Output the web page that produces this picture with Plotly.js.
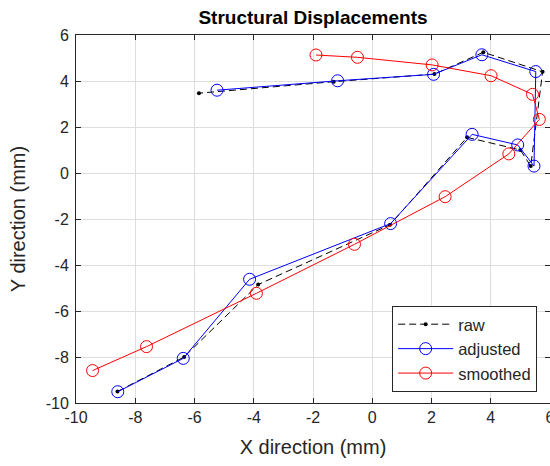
<!DOCTYPE html>
<html>
<head>
<meta charset="utf-8">
<script src="https://cdn.plot.ly/plotly-3.0.1.min.js"></script>
<style>html,body{margin:0;padding:0;background:#fff;}#chart{width:550px;height:466px;}</style>
</head>
<body>
<div id="chart"></div>
<script>
// Data (mm)
const rawX      = [-8.6, -6.35, -3.85, 0.6, 3.2, 5.0, 5.35, 5.75, 3.75, 2.1, -1.3, -5.85];
const rawY      = [-9.5, -8.0, -4.85, -2.25, 1.55, 1.0, 0.3, 4.4, 5.25, 4.3, 3.97, 3.47];
const adjX      = [-8.59, -6.38, -4.14, 0.62, 3.37, 4.91, 5.46, 5.52, 3.70, 2.07, -1.17, -5.24];
const adjY      = [-9.51, -8.06, -4.62, -2.2, 1.68, 1.22, 0.30, 4.41, 5.14, 4.29, 4.01, 3.60];
const smoothX   = [-9.44, -7.62, -3.91, -0.6, 2.46, 4.61, 5.64, 5.41, 4.01, 2.02, -0.5, -1.9];
const smoothY   = [-8.59, -7.55, -5.23, -3.1, -1.03, 0.83, 2.33, 3.42, 4.23, 4.70, 5.03, 5.13];
const seriesNames = ['raw', 'adjusted', 'smoothed'];
const xTicks = [-10, -8, -6, -4, -2, 0, 2, 4, 6];
const yTicks = [-10, -8, -6, -4, -2, 0, 2, 4, 6];

const FONT = 'Liberation Sans, Arial, Helvetica, sans-serif';
const AX = '#262626';

const traces = [
  {x: rawX, y: rawY, name: seriesNames[0], type: 'scatter', mode: 'lines+markers',
   line: {color: '#000000', width: 1, dash: '7px,4px'},
   marker: {symbol: 'circle', size: 4, color: '#000000'}},
  {x: adjX, y: adjY, name: seriesNames[1], type: 'scatter', mode: 'lines+markers',
   line: {color: '#0000ff', width: 1},
   marker: {symbol: 'circle-open', size: 12, color: '#0000ff', line: {width: 1, color: '#0000ff'}}},
  {x: smoothX, y: smoothY, name: seriesNames[2], type: 'scatter', mode: 'lines+markers',
   line: {color: '#ff0000', width: 1},
   marker: {symbol: 'circle-open', size: 12, color: '#ff0000', line: {width: 1, color: '#ff0000'}}}
];

const axisCommon = {
  showline: true, linecolor: AX, linewidth: 1, mirror: 'ticks',
  ticks: 'inside', ticklen: 5, tickcolor: AX, tickwidth: 1,
  showgrid: true, gridcolor: '#dedede', gridwidth: 1,
  zeroline: false, tickfont: {family: FONT, size: 16, color: AX},
  ticklabeloverflow: 'allow',
  fixedrange: true
};

const layout = {
  width: 550, height: 466,
  margin: {l: 76, r: 0, t: 35, b: 63, pad: 0},
  paper_bgcolor: '#ffffff', plot_bgcolor: '#ffffff',
  font: {family: FONT, color: AX},
  title: {text: '<b>Structural Displacements</b>', font: {family: FONT, size: 19, color: '#000000'},
          xref: 'paper', x: 0.5, xanchor: 'center', yref: 'container', y: 1 - 17/466, yanchor: 'middle'},
  xaxis: Object.assign({}, axisCommon, {
    range: [-10, 6], tickvals: xTicks, ticktext: xTicks.map(String),
    title: {text: 'X direction (mm)', font: {family: FONT, size: 20, color: AX}, standoff: 14}
  }),
  yaxis: Object.assign({}, axisCommon, {
    range: [-10, 6], tickvals: yTicks, ticktext: yTicks.map(String), ticklabelstandoff: 3,
    title: {text: 'Y direction (mm)', font: {family: FONT, size: 20, color: AX}, standoff: 14}
  }),
  showlegend: true,
  legend: {x: 0.667, y: 0.03, xanchor: 'left', yanchor: 'bottom',
           bgcolor: '#ffffff', bordercolor: AX, borderwidth: 1, itemwidth: 55,
           font: {family: FONT, size: 16.5, color: AX}}
};

Plotly.newPlot('chart', traces, layout, {displayModeBar: false, staticPlot: true});
</script>
</body>
</html>
